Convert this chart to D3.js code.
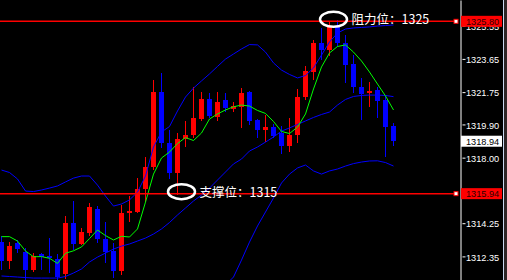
<!DOCTYPE html>
<html><head><meta charset="utf-8">
<script src="https://cdn.jsdelivr.net/npm/d3@7"></script>
<style>html,body{margin:0;padding:0;background:#000;overflow:hidden}svg{display:block}</style>
</head><body><svg id="c" width="507" height="280"></svg>
<script>
// ---- data ----
const opens  = [1313.15,1312.08,1313.10,1312.63,1311.57,1312.47,1312.37,1312.20,1311.34,1314.26,1313.07,1313.70,1315.06,1313.34,1312.66,1311.51,1314.81,1314.91,1316.19,1317.45,1321.77,1318.82,1317.12,1319.05,1319.29,1320.21,1321.35,1320.34,1321.30,1320.78,1320.87,1321.76,1320.15,1319.60,1319.75,1319.41,1318.67,1319.29,1321.47,1322.92,1324.58,1324.16,1325.49,1324.54,1323.36,1322.02,1321.71,1321.87,1321.30,1319.81];
const highs  = [1313.51,1313.19,1313.29,1312.83,1312.53,1312.54,1313.42,1312.49,1314.69,1315.50,1313.96,1315.42,1315.25,1314.30,1313.10,1315.29,1315.80,1316.82,1318.02,1322.44,1322.83,1319.58,1319.39,1320.10,1322.06,1321.74,1321.68,1321.74,1321.68,1321.18,1321.98,1321.84,1320.21,1320.44,1319.90,1319.83,1320.25,1321.91,1323.27,1324.76,1325.40,1325.78,1325.85,1325.02,1323.87,1322.54,1322.34,1322.02,1321.53,1320.00];
const lows   = [1311.57,1311.61,1312.53,1310.88,1311.45,1311.60,1311.40,1310.88,1311.05,1312.71,1313.00,1313.51,1313.11,1311.99,1311.09,1311.28,1314.33,1314.83,1315.48,1317.29,1318.55,1316.78,1315.86,1318.59,1319.11,1320.10,1320.27,1320.10,1320.61,1320.61,1319.70,1319.85,1319.14,1318.92,1319.14,1318.21,1318.34,1318.84,1321.30,1322.44,1323.59,1323.82,1324.35,1322.25,1321.68,1320.15,1320.88,1320.25,1318.05,1318.67];
const closes = [1312.10,1312.94,1312.75,1311.57,1312.37,1312.34,1312.26,1311.17,1314.26,1313.07,1313.74,1315.16,1313.33,1312.62,1311.51,1314.85,1314.95,1316.19,1317.45,1321.77,1318.82,1317.12,1319.07,1319.29,1320.28,1321.35,1320.41,1321.20,1320.82,1320.94,1321.70,1320.10,1319.58,1319.77,1319.24,1318.67,1319.29,1321.49,1322.96,1324.58,1324.16,1325.49,1324.58,1323.30,1322.02,1321.64,1321.83,1321.26,1319.77,1318.94];
const maGreen = [1313.48,1313.48,1313.23,1312.66,1312.33,1312.34,1312.24,1311.95,1312.53,1312.67,1312.89,1313.37,1313.86,1313.54,1313.29,1313.50,1313.46,1313.92,1315.46,1317.06,1317.98,1318.32,1318.81,1319.15,1318.98,1319.41,1320.21,1320.50,1320.73,1320.91,1321.01,1320.95,1320.70,1320.53,1320.07,1319.50,1319.38,1319.75,1320.50,1321.93,1323.19,1323.99,1324.36,1324.45,1324.04,1323.53,1322.90,1322.21,1321.53,1320.73];
const bbUpper = [1317.29,1317.15,1316.78,1316.09,1316.06,1316.15,1316.26,1316.38,1316.61,1316.83,1316.95,1316.95,1316.43,1315.80,1315.23,1315.35,1315.58,1316.03,1316.95,1318.61,1319.47,1319.78,1320.67,1321.47,1321.98,1322.39,1322.79,1323.22,1323.64,1323.93,1324.22,1324.47,1324.45,1324.04,1323.42,1323.01,1322.76,1322.56,1322.70,1323.13,1323.87,1324.62,1325.13,1325.36,1325.42,1325.45,1325.48,1325.53,1325.56,1325.59];
const bbMiddle = [1311.23,1311.20,1311.17,1311.14,1311.11,1311.11,1311.11,1311.11,1311.20,1311.40,1311.63,1312.03,1312.31,1312.54,1312.77,1312.94,1313.06,1313.23,1313.40,1313.63,1313.92,1314.29,1314.72,1315.12,1315.52,1315.86,1316.26,1316.72,1317.18,1317.64,1317.92,1318.38,1318.61,1318.89,1319.18,1319.52,1319.70,1319.90,1320.10,1320.30,1320.47,1320.61,1321.01,1321.33,1321.50,1321.56,1321.58,1321.58,1321.56,1321.49];
const bbLower = [1305.16,1305.25,1305.56,1306.19,1306.16,1306.08,1305.96,1305.85,1305.79,1305.96,1306.30,1307.11,1308.19,1309.28,1310.31,1310.54,1310.54,1310.43,1309.85,1308.65,1308.37,1308.79,1308.77,1308.77,1309.05,1309.34,1309.74,1310.22,1310.71,1311.17,1312.14,1313.17,1314.09,1314.89,1315.69,1316.55,1317.06,1317.41,1317.58,1317.24,1317.06,1317.24,1317.35,1317.52,1317.66,1317.75,1317.81,1317.82,1317.72,1317.52];
const tickValues = [1325.55,1323.65,1321.75,1319.90,1318.00,1314.25,1312.35];
const levelValues = [1325.80,1315.94];
const lastPrice = 1318.94;
const notes = [{text:"阻力位：1325", value:1325.80, at:42},{text:"支撑位：1315", value:1315.94, at:23}];

// ---- drawing ----
const W = 507, H = 280, plotR = 460;
const svg = d3.select("#c");
svg.append("rect").attr("width",W).attr("height",H).attr("fill","#000");

const x = d3.scaleLinear().domain([0, 49]).range([1.5, 393.5]);
const y = d3.scaleLinear().domain([1311.0, 1327.02]).range([H, 0]);

svg.append("defs").append("clipPath").attr("id","plot")
  .append("rect").attr("x",0).attr("y",0).attr("width",plotR).attr("height",H);
const g = svg.append("g").attr("clip-path","url(#plot)");

const idx = d3.range(opens.length);
const col = i => closes[i] >= opens[i] ? "#ff0000" : "#0000ff";

// wicks
g.selectAll("line.wick").data(idx).join("line").attr("class","wick")
  .attr("x1", i => x(i)).attr("x2", i => x(i))
  .attr("y1", i => y(highs[i])).attr("y2", i => y(lows[i]))
  .attr("stroke", col).attr("stroke-width",1).attr("shape-rendering","crispEdges");
// bodies
g.selectAll("rect.body").data(idx).join("rect").attr("class","body")
  .attr("x", i => x(i) - 2.5).attr("width", 5)
  .attr("y", i => y(Math.max(opens[i], closes[i])))
  .attr("height", i => Math.max(1.5, Math.abs(y(opens[i]) - y(closes[i]))))
  .attr("fill", col).attr("shape-rendering","crispEdges");

const line = arr => d3.line().x((d,i) => x(i)).y(d => y(d))(arr);
[bbUpper, bbMiddle, bbLower].forEach(a =>
  g.append("path").attr("d", line(a)).attr("fill","none").attr("stroke","#0000ff").attr("stroke-width",1));
g.append("path").attr("d", line(maGreen)).attr("fill","none").attr("stroke","#00ff00").attr("stroke-width",1);

// horizontal level lines
levelValues.forEach(v => {
  svg.append("line").attr("x1",0).attr("x2",456).attr("y1",y(v)).attr("y2",y(v))
    .attr("stroke","#ff0000").attr("stroke-width",1.5);
  svg.append("rect").attr("x",454).attr("y",y(v)-2).attr("width",4).attr("height",4)
    .attr("fill","#fff").attr("stroke","#ff0000").attr("stroke-width",1);
});

// annotations
notes.forEach(n => {
  const cx = x(n.at) - 4, cy = y(n.value) - 2;
  svg.append("ellipse").attr("cx",cx).attr("cy",cy).attr("rx",13.5).attr("ry",7.5)
    .attr("fill","none").attr("stroke","#fff").attr("stroke-width",2.5);
  svg.append("text").attr("x",cx + 18).attr("y",y(n.value) + 3)
    .attr("fill","#fff").attr("font-family","'Noto Sans CJK SC', sans-serif")
    .attr("font-size",12.5).text(n.text);
});

// right axis
const axis = svg.append("g").attr("transform",`translate(${plotR + 0.5},0)`)
  .call(d3.axisRight(y).tickValues(tickValues).tickFormat(d3.format(".2f")).tickSizeOuter(0));
axis.select(".domain").attr("stroke","#fff").attr("stroke-width",1);
axis.selectAll(".tick line").attr("x1",2).attr("x2",5).attr("stroke","#fff");
axis.selectAll(".tick text").attr("x",5.5).attr("dy","0.4em").attr("fill","#fff")
  .attr("font-family","'Liberation Sans', Arial, sans-serif").attr("font-size",9.2);

// price boxes
const box = (v, fill, tc) => {
  svg.append("rect").attr("x",461).attr("y",y(v)-5.5).attr("width",41).attr("height",11).attr("fill",fill);
  svg.append("text").attr("x",466).attr("y",y(v)).attr("dy","0.38em").attr("fill",tc)
    .attr("font-family","'Liberation Sans', Arial, sans-serif").attr("font-size",9.2).text(v.toFixed(2));
};
levelValues.forEach(v => box(v, "#ff0000", "#300000"));
box(lastPrice, "#ffffff", "#000000");

// right edge
svg.append("line").attr("x1",503.5).attr("x2",503.5).attr("y1",0).attr("y2",H).attr("stroke","#c8d8f0");
svg.append("rect").attr("x",504).attr("y",0).attr("width",3).attr("height",H).attr("fill","#2e2626");
</script></body></html>
